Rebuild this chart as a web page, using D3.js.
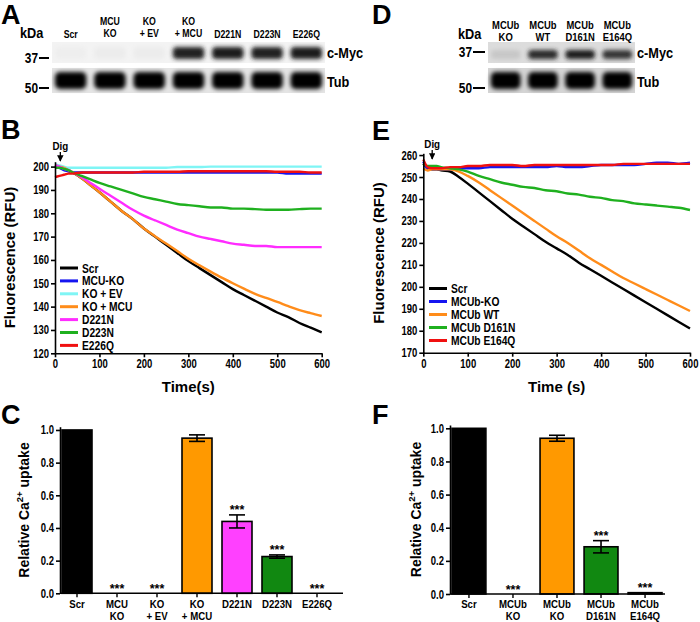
<!DOCTYPE html>
<html><head><meta charset="utf-8">
<script src="https://cdn.jsdelivr.net/npm/d3@7"></script>
<style>body{margin:0;background:#fff}svg{display:block}</style>
</head><body>
<svg id="c" width="700" height="622"></svg>
<script>
const FONT = "'Liberation Sans',Arial,sans-serif";

// ---------- Blot data (band intensities 0..1) ----------
const laneA = ["Scr", "MCU\nKO", "KO\n+ EV", "KO\n+ MCU", "D221N", "D223N", "E226Q"];
const mycA = [0.02, 0.03, 0.03, 0.9, 0.92, 0.9, 0.92];
const tubA = [1, 1, 1, 1, 1, 1, 1];
const laneD = ["MCUb\nKO", "MCUb\nWT", "MCUb\nD161N", "MCUb\nE164Q"];
const mycD = [0.1, 0.85, 0.9, 0.8];
const tubD = [1, 1, 1, 1];

// ---------- Panel B traces ----------
const timeB = [0,10,20,30,40,60,80,100,125,150,175,200,225,250,275,300,325,350,375,400,425,450,475,500,525,550,575,600];
const namesB = ["Scr", "MCU-KO", "KO + EV", "KO + MCU", "D221N", "D223N", "E226Q"];
const colorsB = ["#000000", "#1515f0", "#7ff5f5", "#ff8c1a", "#ff2cff", "#1fb01f", "#f01010"];
const scrB   = [200.5,200,199.5,198.5,197.5,195,192,189,185,181,177.5,173.5,170,166.5,163,159.5,156.5,153.5,150.5,147.5,145,142.5,140,137.5,135.5,133,131,129];
const mcuKoB = [200,199.5,198.5,198,197.5,197.5,197.5,197.5,197.5,197.5,197.5,197.5,197.5,197.5,197.5,197.5,197.5,197.5,197.5,197.5,197.5,197.5,197.5,197.5,197,197,197,197];
const koEvB  = [201,200.5,200,199.5,199.5,199.5,199.5,199.5,199.5,199.5,199.5,199.5,199.5,199.5,199.8,199.8,199.8,200,200,200,200,200,200,200,200,200,200,200];
const koMcuB = [200.5,200,199.5,198.5,197.5,195,192,189,185,181,177.5,173.5,170.2,167,163.8,160.5,157.7,155,152.4,150,147.7,145.5,143.7,142,140.2,138.5,137.2,136];
const d221nB = [200.5,200,199,198.5,197.5,195.5,193,190.5,187.5,184.5,181.5,179,177,175,173,171.5,170,169,168,167,166.5,166,166,165.5,165.5,165.5,165.5,165.5];
const d223nB = [199.5,199.5,199,198.5,197.5,196,194.5,193,191.5,190,188.5,187,186,185,184,183.5,183,182.5,182.5,182,182,181.8,181.5,181.5,181.5,181.8,182,182];
const e226qB = [195.5,196,196.5,197,197,197.5,197.5,197.5,197.5,197.5,197.5,197.8,197.8,197.8,197.8,198,198,198,198,198,198,198,198,197.8,197.8,197.8,197.5,197.5];
const valuesB = [scrB, mcuKoB, koEvB, koMcuB, d221nB, d223nB, e226qB];
const xTicksB = [0,100,200,300,400,500,600];
const yTicksB = [120,130,140,150,160,170,180,190,200];

// ---------- Panel E traces ----------
const timeE = [0,10,20,30,40,60,80,100,125,150,175,200,225,250,275,300,325,350,375,400,425,450,475,500,525,550,575,600];
const namesE = ["Scr", "MCUb-KO", "MCUb WT", "MCUb D161N", "MCUb E164Q"];
const colorsE = ["#000000", "#1515f0", "#ff8c1a", "#1fb01f", "#f01010"];
const scrE   = [256,254,253.5,253.5,253,252.5,250,247,243,239,235,231,227.5,224,220.5,217.5,214.5,211,208,205,202,199,196,193,190,187,184,181];
const koE    = [257,253.5,253.5,253.5,253.5,253.5,254,254,254,254.5,254.5,254.5,254.5,254.5,254.5,255,254.5,254.5,255,255.5,255.5,255.5,255.5,256,256.5,256.5,256,256.5];
const wtE    = [254,253,253.5,253.5,253.5,253.5,252.5,250.5,247.5,244,240.5,237,233.5,230,226.5,223,220,216.5,213,210,207,204,201.5,199,196.5,194,191.5,189];
const d161nE = [256,255,255,255,254.5,254,253.5,252.5,250.5,249,247.5,246.5,245.5,245,244,243.5,242.5,242,241,240.5,239.5,239,238,237.5,237,236.5,236,235];
const e164qE = [258,254.5,254,254,254,254.5,254.5,255,255,255.5,255.5,255.5,255,255.5,255.5,255.5,255.5,255.5,255.5,255.5,255.5,256,256,256,256,256,256,256];
const valuesE = [scrE, koE, wtE, d161nE, e164qE];
const xTicksE = [0,100,200,300,400,500,600];
const yTicksE = [170,180,190,200,210,220,230,240,250,260];

// ---------- Panel C bars ----------
const catsC = ["Scr", "MCU\nKO", "KO\n+ EV", "KO\n+ MCU", "D221N", "D223N", "E226Q"];
const meanC = [1.0, 0, 0, 0.95, 0.44, 0.225, 0];
const errC  = [0.003, 0, 0, 0.02, 0.04, 0.01, 0];
const starC = [false, true, true, false, true, true, true];
const colorC = ["#000000", "#000000", "#000000", "#ff9900", "#ff40ff", "#118811", "#000000"];

// ---------- Panel F bars ----------
const catsF = ["Scr", "MCUb\nKO", "MCUb\nKO", "MCUb\nD161N", "MCUb\nE164Q"];
const meanF = [1.0, 0, 0.94, 0.285, 0.008];
const errF  = [0.003, 0, 0.018, 0.037, 0.003];
const starF = [false, true, false, true, true];
const colorF = ["#000000", "#000000", "#ff9900", "#118811", "#000000"];
const yTicksBar = [0, 0.2, 0.4, 0.6, 0.8, 1.0];

const svg = d3.select("#c").style("font-family", FONT);

const defs = svg.append("defs");
defs.append("filter").attr("id", "blur").attr("x", "-30%").attr("y", "-60%").attr("width", "160%").attr("height", "220%")
  .append("feGaussianBlur").attr("stdDeviation", 2.2);
defs.append("marker").attr("id", "arr").attr("viewBox", "0 0 10 10").attr("refX", 9).attr("refY", 5)
  .attr("markerWidth", 5).attr("markerHeight", 5).attr("orient", "auto")
  .append("path").attr("d", "M0,0 L10,5 L0,10 z").attr("fill", "#000");

// condensed bold text
function ctext(g, x, y, str, size, anchor, sx) {
  return g.append("text").attr("transform", `translate(${x},${y}) scale(${sx},1)`)
    .attr("text-anchor", anchor || "start").attr("font-size", size).attr("font-weight", "bold").text(str);
}
// one text element, lines as tspans
function multiText(g, str, x, y0, lh, size, sx) {
  const t = g.append("text").attr("transform", `translate(${x},${y0}) scale(${sx},1)`)
    .attr("text-anchor", "middle").attr("font-size", size).attr("font-weight", "bold");
  str.split("\n").forEach((l, i) => t.append("tspan").attr("x", 0).attr("dy", i === 0 ? 0 : lh).text(l));
}

function letter(t, x, y) {
  svg.append("text").attr("x", x).attr("y", y).text(t).attr("font-weight", "bold").attr("font-size", 27);
}
letter("A", 1, 24); letter("B", 1, 139); letter("C", 1, 424);
letter("D", 372, 24); letter("E", 372, 140); letter("F", 372, 424);

// ---------- Blots ----------
function blot(cfg) {
  const g = svg.append("g");
  const x = d3.scaleBand().domain(d3.range(cfg.lanes.length)).range(cfg.range).paddingInner(0.15).paddingOuter(0.05);
  g.append("rect").attr("x", cfg.range[0]).attr("y", cfg.mycY[0]).attr("width", cfg.range[1] - cfg.range[0])
    .attr("height", cfg.mycY[1] - cfg.mycY[0]).attr("fill", cfg.mycBg);
  g.append("rect").attr("x", cfg.range[0]).attr("y", cfg.tubY[0]).attr("width", cfg.range[1] - cfg.range[0])
    .attr("height", cfg.tubY[1] - cfg.tubY[0]).attr("fill", cfg.tubBg);
  const gray = d3.interpolateRgb(cfg.mycBg, "#0a0a0a");
  g.selectAll(".myc").data(cfg.myc).join("rect")
    .attr("x", (d, i) => x(i) + 1).attr("width", x.bandwidth() - 2)
    .attr("y", cfg.mycBand[0]).attr("height", cfg.mycBand[1])
    .attr("rx", 4).attr("fill", d => gray(d)).attr("filter", "url(#blur)");
  const gray2 = d3.interpolateRgb(cfg.tubBg, "#050505");
  g.selectAll(".tub").data(cfg.tub).join("rect")
    .attr("x", (d, i) => x(i) + 1).attr("width", x.bandwidth() - 2)
    .attr("y", cfg.tubBand[0]).attr("height", cfg.tubBand[1])
    .attr("rx", 5).attr("fill", d => gray2(d)).attr("filter", "url(#blur)");
  cfg.lanes.forEach((l, i) => {
    const n = l.split("\n").length;
    multiText(g, l, x(i) + x.bandwidth() / 2, n === 1 ? cfg.labY[1] : cfg.labY[0], cfg.labY[1] - cfg.labY[0], cfg.labSize, cfg.labSx);
  });
  ctext(g, cfg.kda[0], cfg.kda[1], "kDa", 15, "start", 0.85);
  cfg.markers.forEach(m => {
    ctext(g, m.x, m.y + 5, m.t, 14, "end", 0.85);
    g.append("line").attr("x1", m.x + 1).attr("x2", cfg.range[0] - 3).attr("y1", m.y).attr("y2", m.y).attr("stroke", "#000").attr("stroke-width", 2);
  });
  ctext(g, cfg.range[1] + 2, cfg.mycLab, "c-Myc", 15, "start", 0.85);
  ctext(g, cfg.range[1] + 2, cfg.tubLab, "Tub", 15, "start", 0.85);
}
blot({lanes: laneA, myc: mycA, tub: tubA, range: [52, 325], mycY: [42, 63], tubY: [68, 93],
  mycBg: "#f3f3f3", tubBg: "#e4e4e4", mycBand: [47, 12], tubBand: [72, 17],
  labY: [24.5, 37.5], labSize: 11.5, labSx: 0.76, kda: [20, 38], markers: [{t: "37", x: 38, y: 58}, {t: "50", x: 38, y: 88}],
  mycLab: 58, tubLab: 87});
blot({lanes: laneD, myc: mycD, tub: tubD, range: [488, 635], mycY: [42, 63], tubY: [68, 93],
  mycBg: "#dcdcdc", tubBg: "#d4d4d4", mycBand: [50, 9], tubBand: [72, 17],
  labY: [28.5, 41.5], labSize: 11.5, labSx: 0.82, kda: [458, 39], markers: [{t: "37", x: 472, y: 52}, {t: "50", x: 472, y: 88}],
  mycLab: 58, tubLab: 87});

// ---------- Traces ----------
const SX = 0.76;
function styleAxis(a, left, off) {
  a.select(".domain").attr("stroke-width", 1.6);
  a.selectAll(".tick line").attr("stroke-width", 1.6);
  const t = a.selectAll(".tick text").attr("font-weight", "bold").attr("font-size", 12.5).attr("font-family", FONT);
  if (left) t.attr("x", 0).attr("transform", `translate(${-off},0) scale(${SX},1)`);
  else t.attr("transform", `scale(${SX},1)`);
}
function traces(cfg) {
  const g = svg.append("g");
  const x = d3.scaleLinear().domain([0, 600]).range(cfg.xr);
  const y = d3.scaleLinear().domain(cfg.yd).range(cfg.yr);
  const line = d3.line().x((d, i) => x(cfg.time[i])).y(d => y(d)).curve(d3.curveMonotoneX);
  cfg.values.forEach((v, k) => {
    g.append("path").attr("d", line(v)).attr("fill", "none").attr("stroke", cfg.colors[k])
      .attr("stroke-width", 2.4).attr("stroke-linejoin", "round");
  });
  const ax = g.append("g").attr("transform", `translate(0,${cfg.yr[0]})`)
    .call(d3.axisBottom(x).tickValues(cfg.xt).tickSize(4).tickPadding(2).tickSizeOuter(0));
  styleAxis(ax, false);
  const ay = g.append("g").attr("transform", `translate(${cfg.xr[0]},0)`)
    .call(d3.axisLeft(y).tickValues(cfg.yt).tickSize(4).tickPadding(2).tickSizeOuter(0));
  styleAxis(ay, true, 6);
  ctext(g, x(cfg.dig), cfg.digY, "Dig", 11.5, "middle", 0.85);
  g.append("line").attr("x1", x(cfg.dig)).attr("x2", x(cfg.dig)).attr("y1", cfg.digY + 2).attr("y2", cfg.digY + 11)
    .attr("stroke", "#000").attr("stroke-width", 1.3).attr("marker-end", "url(#arr)");
  g.append("text").attr("transform", `translate(${cfg.ytx},${(cfg.yr[0] + cfg.yr[1]) / 2}) rotate(-90)`)
    .attr("text-anchor", "middle").text("Fluorescence (RFU)").attr("font-weight", "bold").attr("font-size", 15);
  g.append("text").attr("x", (cfg.xr[0] + cfg.xr[1]) / 2).attr("y", 392).attr("text-anchor", "middle")
    .text(cfg.xTitle).attr("font-weight", "bold").attr("font-size", 15);
  cfg.names.forEach((n, k) => {
    const yy = cfg.leg[1] + k * cfg.leg[2];
    g.append("line").attr("x1", cfg.leg[0]).attr("x2", cfg.leg[0] + 18).attr("y1", yy).attr("y2", yy)
      .attr("stroke", cfg.colors[k]).attr("stroke-width", 3);
    ctext(g, cfg.leg[0] + 22, yy + 4.5, n, 12.5, "start", 0.82);
  });
}
traces({time: timeB, values: valuesB, colors: colorsB, names: namesB, xr: [55, 321.7], yd: [120, 202.1], yr: [353.3, 161.7],
  xt: xTicksB, yt: yTicksB, dig: 12, digY: 150, ytx: 15, xTitle: "Time(s)", leg: [60, 268, 12.9]});
traces({time: timeE, values: valuesE, colors: colorsE, names: namesE, xr: [423.3, 690], yd: [170, 260.8], yr: [352.7, 153.3],
  xt: xTicksE, yt: yTicksE, dig: 20, digY: 148, ytx: 384, xTitle: "Time (s)", leg: [429, 288.5, 13]});

// ---------- Bars ----------
function bars(cfg) {
  const g = svg.append("g");
  const x = d3.scaleBand().domain(d3.range(cfg.cats.length)).range(cfg.xr).paddingInner(cfg.pi).paddingOuter(cfg.po);
  const y = d3.scaleLinear().domain([0, 1.02]).range(cfg.yr);
  const bw = x.bandwidth();
  g.selectAll(".bar").data(cfg.mean).join("rect")
    .attr("x", (d, i) => x(i)).attr("width", bw)
    .attr("y", d => y(d)).attr("height", d => y(0) - y(d))
    .attr("fill", (d, i) => cfg.colors[i]).attr("stroke", "#000").attr("stroke-width", 1.6);
  cfg.mean.forEach((m, i) => {
    const cx = x(i) + bw / 2, e = cfg.err[i];
    if (e > 0.006) {
      g.append("line").attr("x1", cx).attr("x2", cx).attr("y1", y(m - e)).attr("y2", y(m + e)).attr("stroke", "#000").attr("stroke-width", 1.6);
      [m - e, m + e].forEach(v => g.append("line").attr("x1", cx - 8).attr("x2", cx + 8).attr("y1", y(v)).attr("y2", y(v)).attr("stroke", "#000").attr("stroke-width", 1.6));
    }
    if (cfg.stars[i]) {
      g.append("text").attr("x", cx).attr("y", y(m + e) - 0.5).attr("text-anchor", "middle").text("***")
        .attr("font-weight", "bold").attr("font-size", 12.5);
    }
    multiText(g, cfg.cats[i], cx, 607.5, 13, 11.5, 0.84);
  });
  const ay = g.append("g").attr("transform", `translate(${cfg.ax},0)`)
    .call(d3.axisLeft(y).tickValues(yTicksBar).tickFormat(d3.format(".1f")).tickSize(4).tickPadding(2).tickSizeOuter(0));
  styleAxis(ay, true, 6);
  g.append("line").attr("x1", cfg.ax).attr("x2", cfg.xEnd).attr("y1", y(0)).attr("y2", y(0)).attr("stroke", "#000").attr("stroke-width", 1.6);
  cfg.cats.forEach((c, i) => g.append("line").attr("x1", x(i) + bw / 2).attr("x2", x(i) + bw / 2).attr("y1", y(0)).attr("y2", y(0) + 4)
    .attr("stroke", "#000").attr("stroke-width", 1.4));
  const t = g.append("text").attr("transform", `translate(${cfg.ytx},${(cfg.yr[0] + cfg.yr[1]) / 2}) rotate(-90)`)
    .attr("text-anchor", "middle").attr("font-weight", "bold").attr("font-size", 14);
  t.append("tspan").text("Relative Ca");
  t.append("tspan").text("2+").attr("font-size", 9.5).attr("dy", -6);
  t.append("tspan").text(" uptake").attr("dy", 6);
}
bars({cats: catsC, mean: meanC, err: errC, stars: starC, colors: colorC, xr: [57, 337], pi: 0.25, po: 0.125,
  yr: [593.3, 426.7], ax: 60, xEnd: 343, ytx: 29});
bars({cats: catsF, mean: meanF, err: errF, stars: starF, colors: colorF, xr: [452, 662], pi: 0.23, po: 0.0,
  yr: [594, 425], ax: 450, xEnd: 665, ytx: 421});
</script>
</body></html>
